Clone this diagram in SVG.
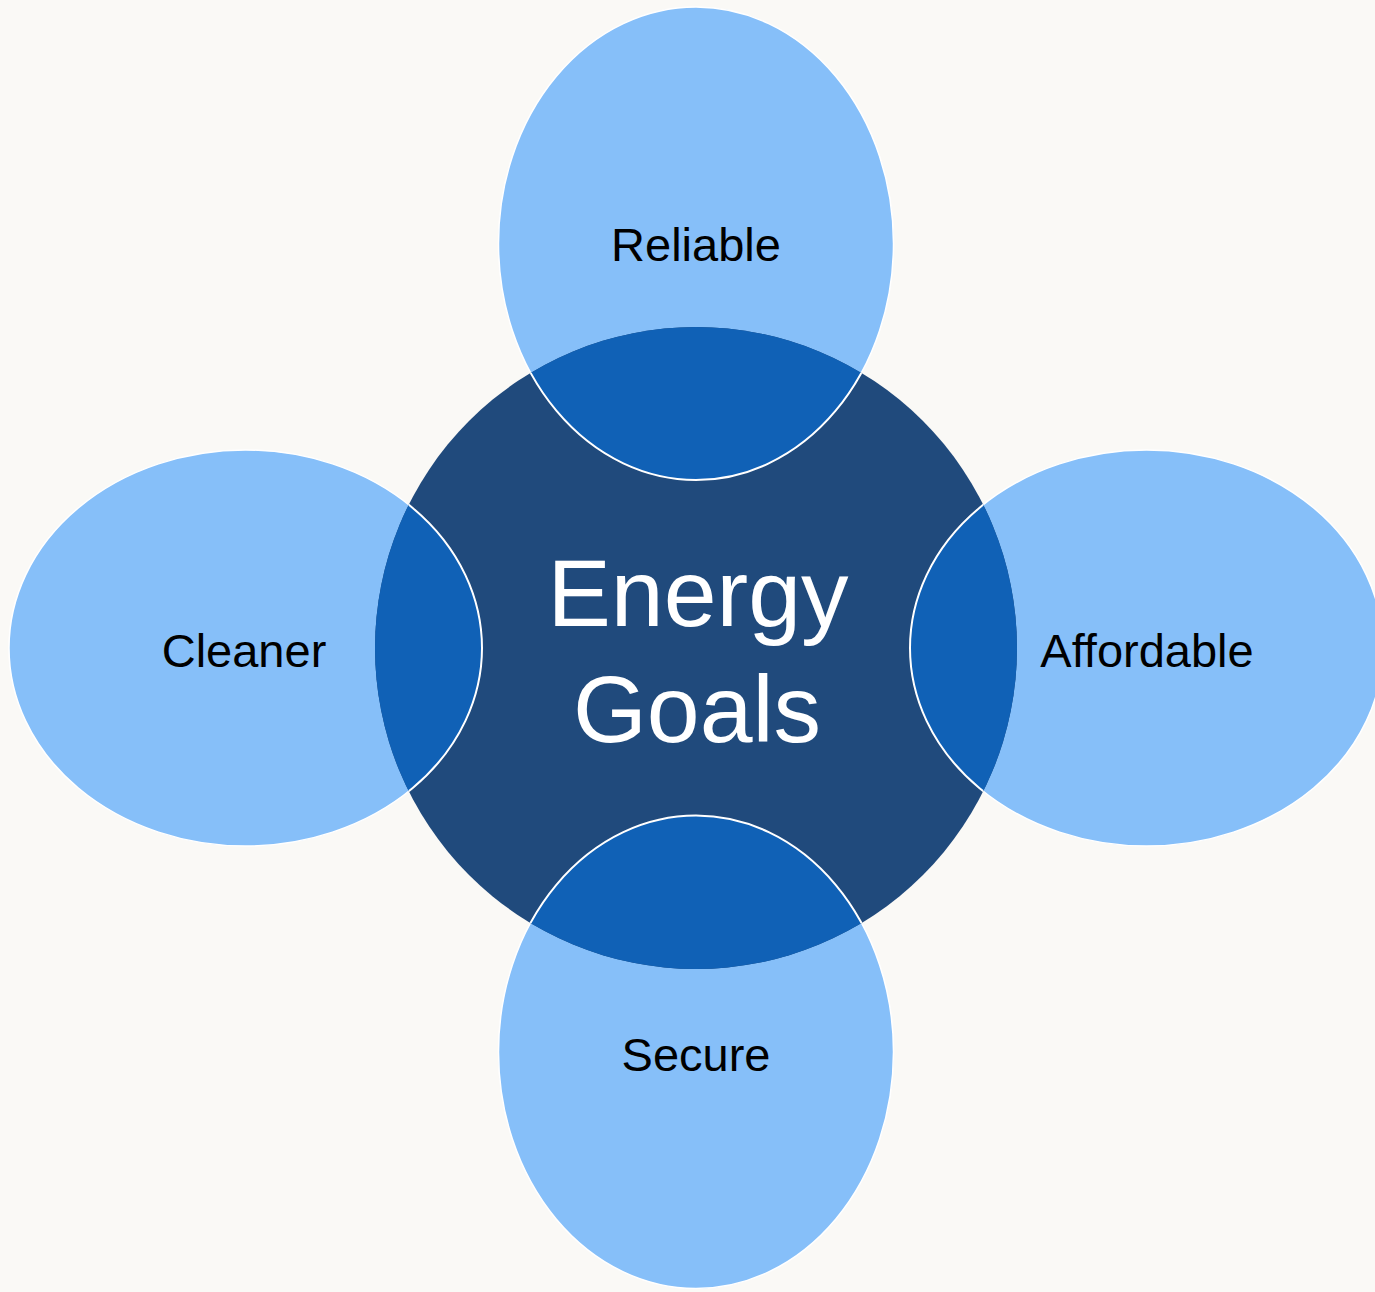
<svg xmlns="http://www.w3.org/2000/svg" width="1375" height="1292" viewBox="0 0 1375 1292">
<style>
.petal{fill:#86bff9;stroke:#ffffff;stroke-width:1.5}
.overlap{fill:#1061b6;stroke:#ffffff;stroke-width:2}
.core{fill:#204a7c}
.lbl{font-family:"Liberation Sans",Arial,sans-serif;font-size:47px;fill:#000000;text-anchor:middle}
.title{font-family:"Liberation Sans",Arial,sans-serif;font-size:95px;fill:#ffffff;text-anchor:middle}
</style>
<defs>
<clipPath id="coreClip"><circle cx="696" cy="648" r="321"/></clipPath>
</defs>
<rect width="1375" height="1292" fill="#faf9f6"/>
<g id="petals">
<g id="node-reliable"><ellipse class="petal" cx="696" cy="243.5" rx="197.5" ry="236.5"/></g>
<g id="node-cleaner"><ellipse class="petal" cx="245.5" cy="648" rx="236.5" ry="198"/></g>
<g id="node-affordable"><ellipse class="petal" cx="1146.5" cy="648" rx="236.5" ry="198"/></g>
<g id="node-secure"><ellipse class="petal" cx="696" cy="1052" rx="197.5" ry="236.5"/></g>
</g>
<g id="node-center">
<circle class="core" cx="696" cy="648" r="321"/>
<g clip-path="url(#coreClip)">
<ellipse class="overlap" cx="696" cy="243.5" rx="197.5" ry="236.5"/>
<ellipse class="overlap" cx="245.5" cy="648" rx="236.5" ry="198"/>
<ellipse class="overlap" cx="1146.5" cy="648" rx="236.5" ry="198"/>
<ellipse class="overlap" cx="696" cy="1052" rx="197.5" ry="236.5"/>
</g>
<text class="title" x="698" y="626">Energy</text>
<text class="title" x="697" y="742">Goals</text>
</g>
<g id="labels">
<text class="lbl" x="696" y="261">Reliable</text>
<text class="lbl" x="244" y="667">Cleaner</text>
<text class="lbl" x="1147" y="667">Affordable</text>
<text class="lbl" x="696" y="1071">Secure</text>
</g>
</svg>
